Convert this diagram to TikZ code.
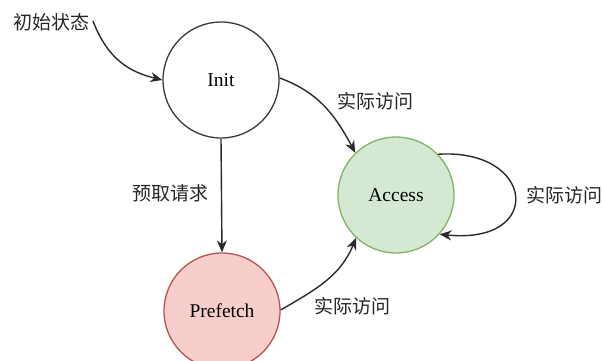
\documentclass[tikz,border=0pt]{standalone}
\usepackage{fontspec}
\setmainfont{Liberation Serif}
\newfontfamily\cjk{Noto Sans CJK SC}
\usetikzlibrary{arrows.meta}
\definecolor{initdraw}{HTML}{3A3A3A}
\definecolor{accfill}{HTML}{D5E8D4}
\definecolor{accdraw}{HTML}{82B366}
\definecolor{prefill}{HTML}{F8CECC}
\definecolor{predraw}{HTML}{B85450}
\definecolor{edge}{HTML}{2A2A2A}
\begin{document}
\begin{tikzpicture}[x=1pt,y=-1pt,
  state/.style={circle,draw,line width=1.3pt,minimum size=116pt,inner sep=0pt,font=\fontsize{19.5}{22}\selectfont},
  lbl/.style={font=\cjk\fontsize{19}{22}\selectfont,text=black!85,inner sep=0pt},
  conn/.style={draw=edge,line width=1.4pt,-{Stealth[length=12pt,width=10pt]}}]
  \path[use as bounding box] (0,0) rectangle (603,361);
  \clip (0,0) rectangle (603,361);
  \node[state,draw=initdraw,fill=white] (init) at (221,80) {Init};
  \node[state,draw=accdraw,fill=accfill] (acc) at (396,195) {Access};
  \node[state,draw=predraw,fill=prefill] (pre) at (222,311) {Prefetch};
  \node[lbl] (start) at (51,22) {初始状态};
  \coordinate (s0) at (93,21);
  % initial transition
  \draw[conn] (s0) .. controls (108,60) and (130,72) .. (init.west);
  % Init -> Access
  \draw[conn] (init.2) to[out=-20,in=118] (acc.134);
  \node[lbl] (l1) at (375,101) {实际访问};
  % Init -> Prefetch
  \draw[conn] (init.south) -- (pre.north);
  \node[lbl] (l2) at (170,193) {预取请求};
  % Prefetch -> Access
  \draw[conn] (pre.1) to[out=30,in=-112] (acc.227);
  \node[lbl] (l3) at (352,306) {实际访问};
  % self loop on Access
  \draw[conn] (acc.44) .. controls (535,148) and (545,245) .. (acc.-42);
  \node[lbl] (l4) at (564,195) {实际访问};
\end{tikzpicture}
\end{document}
